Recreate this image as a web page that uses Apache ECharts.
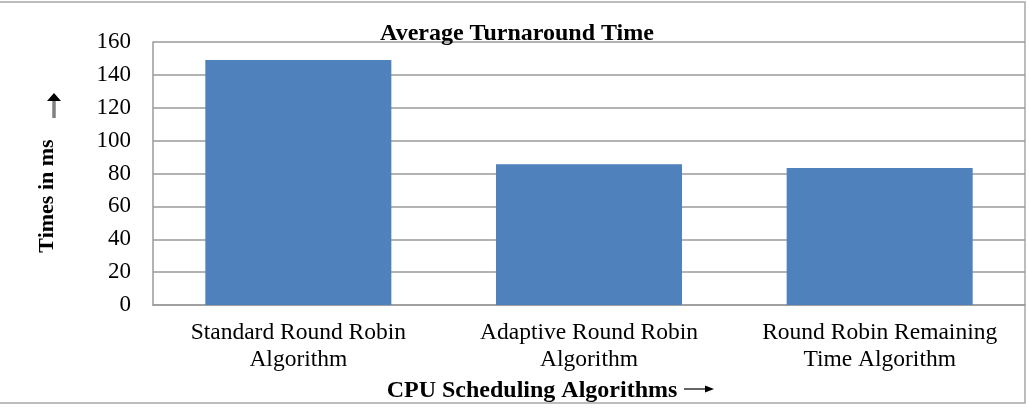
<!DOCTYPE html>
<html>
<head>
<meta charset="utf-8">
<script src="https://cdn.jsdelivr.net/npm/echarts@6/dist/echarts.min.js"></script>
<style>
html,body{margin:0;padding:0;background:#fff;}
#chart{width:1029px;height:408px;}
</style>
</head>
<body>
<div id="chart"></div>
<script>
const categories = ["Standard Round Robin\nAlgorithm", "Adaptive Round Robin\nAlgorithm", "Round Robin Remaining\nTime Algorithm"];
const values = [149, 85.6, 83.3];
const yTicks = [0, 20, 40, 60, 80, 100, 120, 140, 160];

const chart = echarts.init(document.getElementById('chart'), null, {renderer: 'canvas'});
const serif = '"Liberation Serif", "Times New Roman", serif';
chart.setOption({
  animation: false,
  backgroundColor: '#fff',
  title: {
    text: 'Average Turnaround Time',
    left: 512, textAlign: 'center', top: 17,
    textStyle: {fontFamily: serif, fontWeight: 'bold', fontSize: 24, color: '#000'}
  },
  grid: {left: 153, right: 4, top: 42, bottom: 103, containLabel: false},
  xAxis: {
    type: 'category',
    data: categories,
    name: 'CPU Scheduling Algorithms',
    nameLocation: 'middle',
    nameGap: 74,
    nameTextStyle: {fontFamily: serif, fontWeight: 'bold', fontSize: 24, color: '#000', padding: [0, 114, 0, 0]},
    axisLine: {show: true, lineStyle: {color: '#9a9a9a', width: 1.5}},
    axisTick: {show: false},
    axisLabel: {interval: 0, hideOverlap: false, fontFamily: serif, fontSize: 23.5, color: '#000', lineHeight: 27, margin: 14}
  },
  yAxis: {
    type: 'value',
    min: yTicks[0], max: yTicks[yTicks.length - 1], interval: yTicks[1] - yTicks[0],
    name: 'Times in ms',
    nameLocation: 'middle',
    nameGap: 95,
    nameRotate: 90,
    nameTextStyle: {fontFamily: serif, fontWeight: 'bold', fontSize: 22, color: '#000', padding: [0, 45, 0, 0]},
    axisLine: {show: true, lineStyle: {color: '#9a9a9a', width: 1.5}},
    axisTick: {show: false},
    axisLabel: {fontFamily: serif, fontSize: 23, color: '#000', margin: 22},
    splitLine: {show: true, lineStyle: {color: '#9a9a9a', width: 1.5}}
  },
  series: [{
    type: 'bar',
    data: values,
    barCategoryGap: '36%',
    itemStyle: {color: '#4f81bd'}
  }],
  graphic: [
    {
      type: 'rect',
      shape: {x: -2, y: 2, width: 1027, height: 401},
      style: {fill: 'none', stroke: '#a8a8a8', lineWidth: 1.5},
      silent: true
    },
    {
      type: 'line',
      shape: {x1: 54, y1: 118, x2: 54, y2: 99},
      style: {stroke: '#808080', lineWidth: 3.5},
      silent: true
    },
    {
      type: 'polygon',
      shape: {points: [[47, 101], [61, 101], [54, 93]]},
      style: {fill: '#000'},
      silent: true
    },
    {
      type: 'line',
      shape: {x1: 684, y1: 389, x2: 708, y2: 389},
      style: {stroke: '#000', lineWidth: 1.2},
      silent: true
    },
    {
      type: 'polygon',
      shape: {points: [[705, 385.5], [705, 392.5], [714, 389]]},
      style: {fill: '#000'},
      silent: true
    }
  ]
});
</script>
</body>
</html>
